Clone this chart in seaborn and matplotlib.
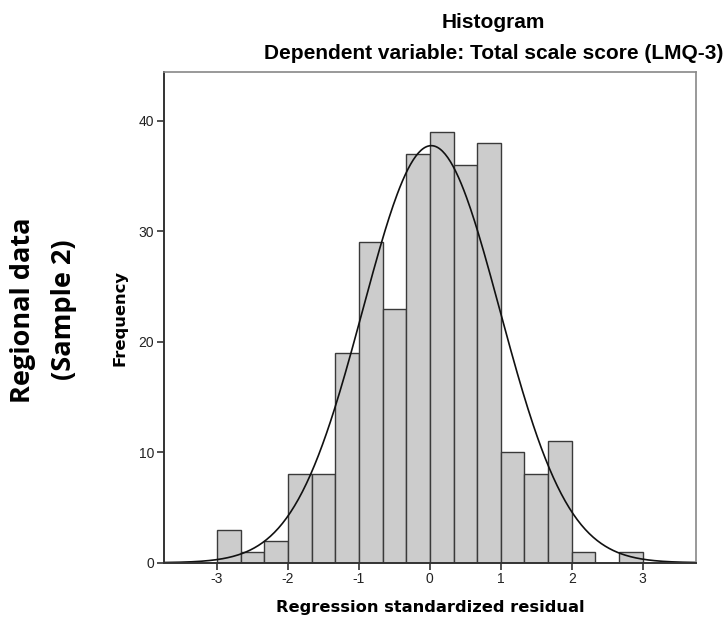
import numpy as np
import pandas as pd
import matplotlib
matplotlib.use("Agg")
import matplotlib.pyplot as plt
import seaborn as sns

# Histogram of regression standardized residuals, bins of width 1/3 from -3 to 3
bin_edges = [-3.0, -8/3, -7/3, -2.0, -5/3, -4/3, -1.0, -2/3, -1/3, 0.0,
             1/3, 2/3, 1.0, 4/3, 5/3, 2.0, 7/3, 8/3, 3.0]
counts = [3, 1, 2, 8, 8, 19, 29, 23, 37, 39, 36, 38, 10, 8, 11, 1, 0, 1]
x_ticks = [-3, -2, -1, 0, 1, 2, 3]
y_ticks = [0, 10, 20, 30, 40]

# Normal curve parameters
curve_mean = 0.02
curve_sd = 0.965

sns.set_style("white")
plt.rcParams["font.family"] = ["Liberation Sans", "DejaVu Sans"]
plt.rcParams["text.color"] = "black"

fig = plt.figure(figsize=(7.25, 6.26), dpi=100)
ax = fig.add_axes([0.2258, 0.1011, 0.7342, 0.7834])

edges = np.array(bin_edges)
centers = (edges[:-1] + edges[1:]) / 2
df = pd.DataFrame({"residual": centers, "count": counts})

sns.histplot(data=df, x="residual", weights="count", bins=list(bin_edges), ax=ax,
             color="#cccccc", edgecolor="#3a3a3a", linewidth=1.0, alpha=1.0)

n_total = sum(counts)
width = edges[1] - edges[0]
xs = np.linspace(-3.75, 3.75, 400)
ys = n_total * width * np.exp(-0.5 * ((xs - curve_mean) / curve_sd) ** 2) / (curve_sd * np.sqrt(2 * np.pi))
sns.lineplot(x=xs, y=ys, ax=ax, color="#111111", linewidth=1.2)

ax.set_xlim(-3.75, 3.75)
ax.set_ylim(0, 44.4)
ax.set_xticks(x_ticks)
ax.set_yticks(y_ticks)
ax.set_xticklabels([str(t) for t in x_ticks])
ax.set_yticklabels([str(t) for t in y_ticks])
ax.tick_params(axis="both", direction="out", length=5, width=1.2, color="#333333",
               labelsize=10, labelcolor="#222222", pad=2,
               bottom=True, left=True)

for side in ["left", "bottom"]:
    ax.spines[side].set_color("#333333")
    ax.spines[side].set_linewidth(1.4)
for side in ["top", "right"]:
    ax.spines[side].set_color("#888888")
    ax.spines[side].set_linewidth(1.2)

ax.set_xlabel("Regression standardized residual", family="DejaVu Sans",
              fontweight="bold", fontsize=11.7, labelpad=10, color="black")
ax.set_ylabel("Frequency", family="DejaVu Sans", fontweight="bold",
              fontsize=11.8, labelpad=8, color="black")

fig.text(0.681, 0.955, "Histogram", ha="center", va="baseline",
         fontsize=15, fontweight="bold")
fig.text(0.681, 0.9065, "Dependent variable: Total scale score (LMQ-3)",
         ha="center", va="baseline", fontsize=15, fontweight="bold")

fig.text(0.032, 0.505, "Regional data", rotation=90, ha="center", va="center",
         family=["Open Sans", "DejaVu Sans"], fontweight="bold", fontsize=19.5)
fig.text(0.088, 0.505, "(Sample 2)", rotation=90, ha="center", va="center",
         family=["Open Sans", "DejaVu Sans"], fontweight="bold", fontsize=19.5)

fig.savefig("out.png", dpi=100)
